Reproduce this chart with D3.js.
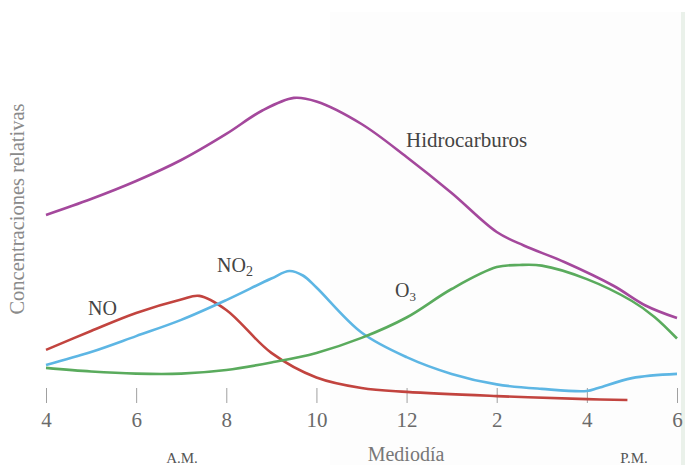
<!DOCTYPE html>
<html>
  <head>
    <meta charset="utf-8">
    <script src="https://d3js.org/d3.v7.min.js"></script>
    <style>
      body { margin: 0; background: #fff; }
      svg text { font-family: "Liberation Serif", "DejaVu Serif", serif; }
      .tick line { stroke: #a0a0a0; stroke-width: 1; }
      .tick text { fill: #6a6a6a; font-size: 21px; }
    </style>
  </head>
  <body>
    <script>
      // horas del día (4 A.M. ... 6 P.M. = 18) y concentraciones relativas
      const hcHora  = [4, 5, 6, 7, 8, 8.8, 9.5, 10, 11, 12, 13, 14, 14.6, 15.5, 16.6, 17.3, 18];
      const hcValor = [61.7, 67, 73, 80, 88.7, 96.5, 100.7, 99.5, 92, 81, 69, 56, 51.5, 46, 38, 31.5, 27.3];

      const noHora  = [4, 5, 6, 7, 7.4, 8, 9, 10, 11, 12, 14, 16, 16.9];
      const noValor = [16.7, 23, 29, 33.5, 34.7, 30, 15.7, 7.5, 4, 2.7, 1.3, 0.3, 0];

      const no2Hora  = [4, 5, 6, 7, 8, 9, 9.4, 9.7, 10, 11, 12, 13, 14, 15, 16, 16.25, 17, 18];
      const no2Valor = [11.7, 16, 21.3, 26.7, 33.3, 40.5, 43, 41.5, 37.5, 22.5, 14.3, 8.7, 5.2, 3.7, 3, 4, 7.3, 8.7];

      const o3Hora  = [4, 5, 6, 7, 8, 9, 10, 11, 12, 13, 14, 14.5, 15, 16, 17, 17.5, 18];
      const o3Valor = [10.7, 9.5, 8.8, 8.8, 10, 12.5, 15.7, 20.7, 27.5, 37, 44.3, 45, 44.8, 40.3, 33, 27.7, 20.5];

      const horasEje = [4, 6, 8, 10, 12, 14, 16, 18];

      const series = [
        {nombre: "Hidrocarburos", hora: hcHora, valor: hcValor, color: "#a4489c"},
        {nombre: "NO", hora: noHora, valor: noValor, color: "#c2443f"},
        {nombre: "NO2", hora: no2Hora, valor: no2Valor, color: "#5db6e4"},
        {nombre: "O3", hora: o3Hora, valor: o3Valor, color: "#5aab5d"}
      ];

      const width = 685, height = 465;

      const svg = d3.select("body").append("svg")
        .attr("width", width)
        .attr("height", height);

      // fondo del escaneo (panel muy claro a la derecha)
      svg.append("rect")
        .attr("x", 330).attr("y", 12)
        .attr("width", 355).attr("height", 453)
        .attr("fill", "#fdfdfd");
      svg.append("rect")
        .attr("x", 681).attr("y", 12)
        .attr("width", 4).attr("height", 453)
        .attr("fill", "#eaf1ea");

      const x = d3.scaleLinear().domain([4, 18]).range([46, 677]);
      const y = d3.scaleLinear().domain([0, 100]).range([400, 100]);

      const xAxis = d3.axisBottom(x)
        .tickValues(horasEje)
        .tickSize(15)
        .tickPadding(9)
        .tickFormat(h => h > 12 ? h - 12 : h);

      svg.append("g")
        .attr("transform", "translate(0,388)")
        .call(xAxis)
        .call(g => g.select(".domain").remove());

      const line = d3.line()
        .x(d => x(d[0]))
        .y(d => y(d[1]))
        .curve(d3.curveCatmullRom.alpha(0.5));

      svg.selectAll("path.serie")
        .data(series)
        .join("path")
        .attr("class", "serie")
        .attr("fill", "none")
        .attr("stroke", d => d.color)
        .attr("stroke-width", 2.6)
        .attr("stroke-linejoin", "round")
        .attr("d", d => line(d3.zip(d.hora, d.valor)));

      // rótulos de las curvas
      const etiquetas = svg.append("g").attr("fill", "#444");

      etiquetas.append("text")
        .attr("x", 406).attr("y", 147)
        .attr("font-size", 21)
        .text("Hidrocarburos");

      etiquetas.append("text")
        .attr("x", 88).attr("y", 315)
        .attr("font-size", 20)
        .text("NO");

      const tNo2 = etiquetas.append("text")
        .attr("x", 217).attr("y", 272)
        .attr("font-size", 20);
      tNo2.append("tspan").text("NO");
      tNo2.append("tspan").attr("font-size", 14).attr("dy", 4).text("2");

      const tO3 = etiquetas.append("text")
        .attr("x", 395).attr("y", 297)
        .attr("font-size", 20);
      tO3.append("tspan").text("O");
      tO3.append("tspan").attr("font-size", 13).attr("dy", 4).text("3");

      // eje vertical
      svg.append("text")
        .attr("transform", "translate(24,209) rotate(-90)")
        .attr("text-anchor", "middle")
        .attr("font-size", 20.5)
        .attr("fill", "#8a8a8a")
        .text("Concentraciones relativas");

      // rótulos inferiores
      svg.append("text")
        .attr("x", 182).attr("y", 463)
        .attr("text-anchor", "middle")
        .attr("font-size", 15)
        .attr("fill", "#555")
        .text("A.M.");

      svg.append("text")
        .attr("x", 406).attr("y", 461)
        .attr("text-anchor", "middle")
        .attr("font-size", 20)
        .attr("fill", "#777")
        .text("Mediodía");

      svg.append("text")
        .attr("x", 634).attr("y", 463)
        .attr("text-anchor", "middle")
        .attr("font-size", 15)
        .attr("fill", "#555")
        .text("P.M.");
    </script>
  </body>
</html>
